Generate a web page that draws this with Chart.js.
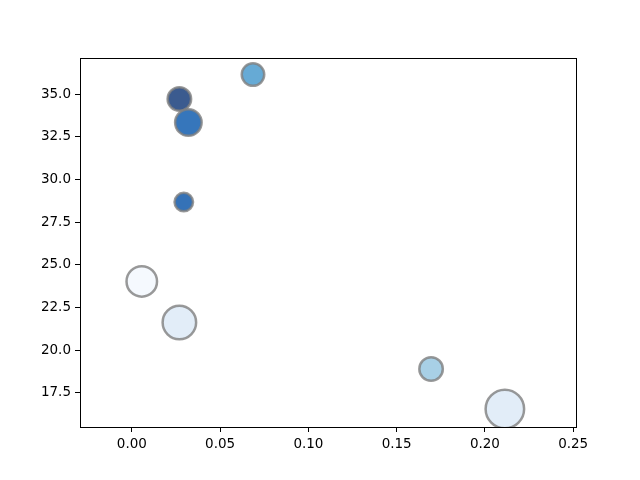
<!DOCTYPE html>
<html>
<head>
<meta charset="utf-8">
<script src="https://cdn.jsdelivr.net/npm/chart.js@4/dist/chart.umd.min.js"></script>
<style>
  html, body { margin: 0; padding: 0; background: #fff; }
  #wrap { width: 640px; height: 480px; }
</style>
</head>
<body>
<div id="wrap"><canvas id="grafico"></canvas></div>
<script>
// valores
const xValues = [0.0686, 0.0269, 0.0320, 0.0294, 0.0056, 0.0269, 0.1695, 0.2113];
const yValues = [36.14, 34.71, 33.33, 28.67, 24.02, 21.61, 18.89, 16.55];
const sizes = [11.25, 11.75, 13.25, 9.25, 15.25, 16.75, 11.75, 19.25];
const fillColors = ['#66aad5', '#3b5b8f', '#3676bb', '#3572b7', '#f5f9fe', '#e2edf8', '#a8d0e6', '#e2edf8'];
const xTicks = [0.00, 0.05, 0.10, 0.15, 0.20, 0.25];
const yTicks = [17.5, 20.0, 22.5, 25.0, 27.5, 30.0, 32.5, 35.0];

const pontos = xValues.map((x, i) => ({ x: x, y: yValues[i] }));

// moldura completa (topo e direita)
const moldura = {
    id: 'moldura',
    afterDraw(chart) {
        const { ctx, chartArea: a } = chart;
        ctx.save();
        ctx.strokeStyle = '#000';
        ctx.lineWidth = 1;
        ctx.strokeRect(a.left + 0.5, a.top + 0.5, a.right - a.left, a.bottom - a.top);
        ctx.restore();
    }
};

const fonte = { family: 'DejaVu Sans', size: 13.5 };

new Chart(document.getElementById('grafico').getContext('2d'), {
    type: 'scatter',
    data: {
        datasets: [{
            data: pontos,
            pointRadius: sizes,
            pointHoverRadius: sizes,
            backgroundColor: fillColors,
            borderColor: 'rgba(128,128,128,0.8)',
            borderWidth: 2.5
        }]
    },
    options: {
        responsive: true,
        maintainAspectRatio: false,
        animation: false,
        layout: { padding: { left: 0, right: 64, top: 58, bottom: 0 } },
        plugins: { legend: { display: false }, tooltip: { enabled: false } },
        scales: {
            x: {
                type: 'linear',
                min: -0.0294,
                max: 0.2516,
                afterBuildTicks: s => { s.ticks = xTicks.map(v => ({ value: v })); },
                afterFit: s => { s.height = 53; },
                grid: { drawOnChartArea: false, drawTicks: true, tickLength: 5, color: '#000' },
                border: { display: true, color: '#000' },
                ticks: { color: '#000', font: fonte, padding: 4, maxRotation: 0,
                         callback: v => v.toFixed(2) }
            },
            y: {
                type: 'linear',
                min: 15.49,
                max: 37.11,
                afterBuildTicks: s => { s.ticks = yTicks.map(v => ({ value: v })); },
                afterFit: s => { s.width = 80; },
                grid: { drawOnChartArea: false, drawTicks: true, tickLength: 5, color: '#000' },
                border: { display: true, color: '#000' },
                ticks: { color: '#000', font: fonte, padding: 4,
                         callback: v => v.toFixed(1) }
            }
        }
    },
    plugins: [moldura]
});
</script>
</body>
</html>
